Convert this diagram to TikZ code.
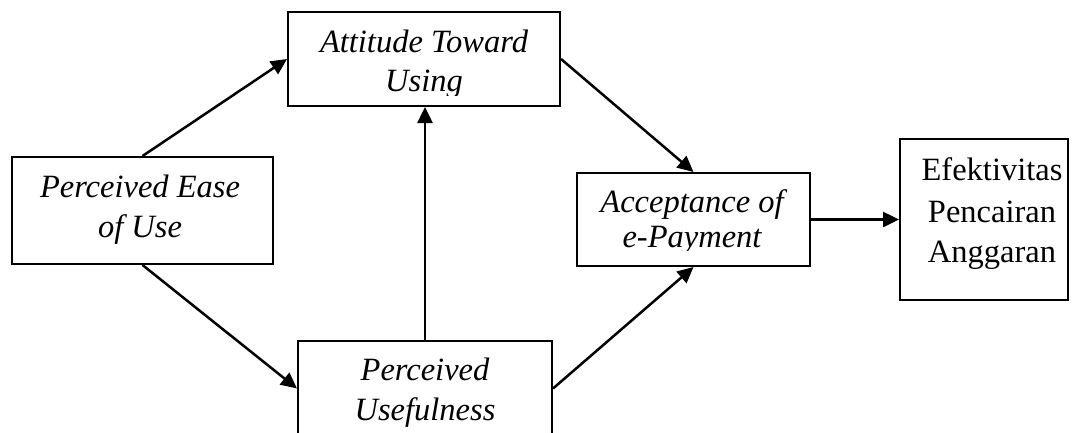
\documentclass[tikz,border=0pt]{standalone}
\usepackage{fontspec}
\setmainfont{Liberation Serif}
\usetikzlibrary{arrows.meta}
\begin{document}
\begin{tikzpicture}[x=1pt,y=-1pt,
  box/.style={draw,line width=2pt,rectangle,inner sep=0pt},
  lbl/.style={anchor=base,inner sep=0pt,font=\fontsize{32.5}{40}\selectfont\itshape},
  lblr/.style={anchor=base,inner sep=0pt,font=\fontsize{32.5}{40}\selectfont},
  link/.style={line width=2.5pt,-{Triangle[length=16pt,width=15pt]}}]
\clip (0,0) rectangle (1073,432);
\fill[white] (0,0) rectangle (1073,432);

% boxes
\node[box,minimum width=272pt,minimum height=94pt] (att) at (424,59) {};
\node[box,minimum width=261pt,minimum height=107pt] (ease) at (142.5,210.5) {};
\node[box,minimum width=254pt,minimum height=95pt] (use) at (425,388.5) {};
\node[box,minimum width=233pt,minimum height=93pt] (acc) at (693.5,219.5) {};
\node[box,minimum width=168pt,minimum height=161pt] (efk) at (984,219.5) {};

% labels (the lower lines are cut by the text area)
\begin{scope}
  \clip (290,14) rectangle (558,95);
  \node[lbl] (att1) at (424,52) {Attitude Toward};
  \node[lbl] (att2) at (424,91) {Using};
\end{scope}
\node[lbl] (ease1) at (140,197) {Perceived Ease};
\node[lbl] (ease2) at (140,237) {of Use};
\node[lbl] (use1) at (425,380) {Perceived};
\node[lbl] (use2) at (425,420) {Usefulness};
\begin{scope}
  \clip (579,175) rectangle (808,250);
  \node[lbl] (acc1) at (692,212) {Acceptance of};
  \node[lbl] (acc2) at (692,247) {e-Payment};
\end{scope}
\node[lblr] (efk1) at (992,180) {Efektivitas};
\node[lblr] (efk2) at (992,222) {Pencairan};
\node[lblr] (efk3) at (992,262) {Anggaran};

% connectors
\draw[link] (ease.north) -- (att.west);
\draw[link] (ease.south) -- (use.west);
\draw[link] (use.north) -- (use.north |- att.south);
\draw[link] (att.east) -- (acc.north);
\draw[link] (use.east) -- (acc.south);
\draw[link] (acc.east) -- (efk.west);
\end{tikzpicture}
\end{document}
